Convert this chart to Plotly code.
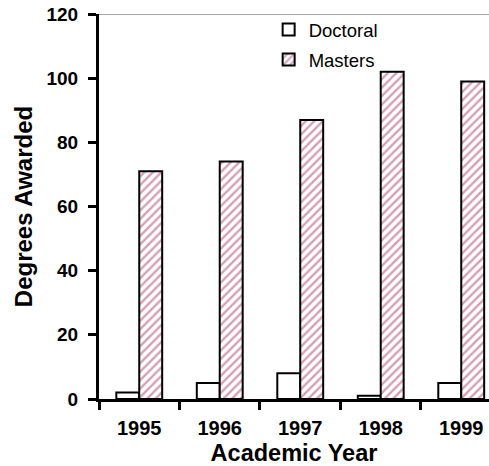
import plotly.graph_objects as go

years = ["1995", "1996", "1997", "1998", "1999"]
doctoral = [2, 5, 8, 1, 5]
masters = [71, 74, 87, 102, 99]

FONT = "Liberation Sans, Arial, sans-serif"

fig = go.Figure()
fig.add_trace(go.Bar(
    x=years, y=doctoral, name="Doctoral", legendgroup="a",
    marker=dict(color="white", line=dict(color="black", width=2)),
))
fig.add_trace(go.Bar(
    x=years, y=masters, name="Masters", legendgroup="b",
    marker=dict(color="white", line=dict(color="black", width=2),
                pattern=dict(shape="/", fgcolor="#a8406e", bgcolor="white",
                             size=6, solidity=0.4)),
))

fig.update_layout(
    width=489, height=466,
    margin=dict(l=99, r=0, t=14, b=67),
    paper_bgcolor="white", plot_bgcolor="white",
    barmode="group", bargap=0.43, bargroupgap=0,
    font=dict(family=FONT, color="black"),
    showlegend=True,
    legend=dict(x=0.435, y=1.008, xanchor="left", yanchor="top",
                font=dict(size=18.5, family=FONT), bgcolor="rgba(0,0,0,0)",
                traceorder="grouped", tracegroupgap=3, itemwidth=30),
    xaxis=dict(
        type="category", range=[-0.5, 4.345], tickson="boundaries",
        ticks="outside", ticklen=8, tickwidth=3, tickcolor="black",
        showline=True, linecolor="black", linewidth=3,
        tickfont=dict(size=20, family=FONT, weight="bold"),
        ticklabelstandoff=9, automargin=False,
        title=dict(text="<b>Academic Year</b>", font=dict(size=23.5, family=FONT), standoff=9),
        showgrid=False,
    ),
    yaxis=dict(
        range=[0, 120], tickvals=[0, 20, 40, 60, 80, 100, 120],
        ticks="outside", ticklen=8, tickwidth=3, tickcolor="black",
        showline=True, linecolor="black", linewidth=3,
        tickfont=dict(size=19, family=FONT, weight="bold"),
        ticklabelstandoff=6, automargin=False,
        title=dict(text="<b>Degrees Awarded</b>", font=dict(size=24, family=FONT), standoff=8),
        showgrid=False, zeroline=False,
    ),
    shapes=[dict(type="line", xref="paper", yref="y", x0=0, x1=1, y0=120, y1=120,
                 line=dict(color="#888888", width=1.5), layer="below")],
)

fig.write_html("out.html", config={"displayModeBar": False},
               post_script="document.body.style.margin='0';document.body.style.padding='0';")
